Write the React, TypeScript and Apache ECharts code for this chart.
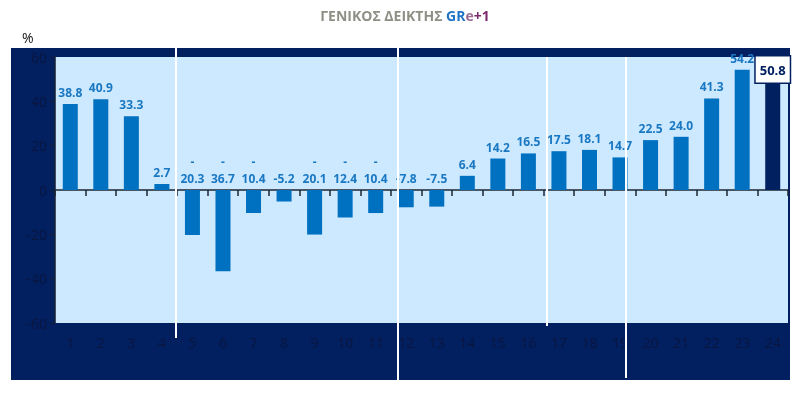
import React, { useEffect, useRef } from "react";
import * as echarts from "echarts";

const categories = ["1","2","3","4","5","6","7","8","9","10","11","12","13","14","15","16","17","18","19","20","21","22","23","24"];
const values = [38.8, 40.9, 33.3, 2.7, -20.3, -36.7, -10.4, -5.2, -20.1, -12.4, -10.4, -7.8, -7.5, 6.4, 14.2, 16.5, 17.5, 18.1, 14.7, 22.5, 24.0, 41.3, 54.2, 50.8];
const yTicks = { min: -60, max: 60, interval: 20 };

const NAVY = "#022060";
const BAR = "#0070c0";
const LABEL = "#1a78c2";
const AXISTXT = "#0a1640";

export default function App() {
  const ref = useRef<HTMLDivElement>(null);
  useEffect(() => {
    if (!ref.current) return;
    const chart = echarts.init(ref.current, null, { renderer: "svg" });
    const last = values.length - 1;
    const data = values.map((v, i) => {
      if (i === last) {
        return {
          value: v,
          itemStyle: { color: "#002060" },
          label: {
            show: true,
            position: "top",
            distance: -5,
            formatter: v.toFixed(1),
            color: "#002060",
            fontSize: 13,
            fontWeight: "bold",
            backgroundColor: "#ffffff",
            borderColor: "#002060",
            borderWidth: 1.5,
            padding: [5, 4, 4, 4],
          },
        };
      }
      return {
        value: v,
        label: {
          formatter: v <= -10 ? "-\n" + Math.abs(v).toFixed(1) : v.toFixed(1),
        },
      };
    });
    chart.setOption({
      animation: false,
      title: {
        text: "{g|ΓΕΝΙΚΟΣ ΔΕΙΚΤΗΣ }{b|GR}{e|e}{p|+1}",
        left: "center",
        top: 3,
        textStyle: {
          rich: {
            g: { color: "#8f8f86", fontSize: 14, fontWeight: "bold", fontFamily: "Open Sans" },
            b: { color: "#1f74c4", fontSize: 14, fontWeight: "bold", fontFamily: "Open Sans" },
            e: { color: "#9a6a92", fontSize: 14, fontWeight: "bold", fontFamily: "Open Sans" },
            p: { color: "#7d2a6e", fontSize: 14, fontWeight: "bold", fontFamily: "Open Sans" },
          },
        },
      },
      grid: {
        left: 55,
        right: 22,
        top: 57,
        bottom: 70,
        show: true,
        backgroundColor: "#cce9ff",
        borderWidth: 0,
      },
      graphic: [
        { type: "rect", z: -100, shape: { x: 11, y: 48, width: 779, height: 332 }, style: { fill: NAVY } },
        { type: "text", left: 22, top: 30, style: { text: "%", fontSize: 14, fill: "#111", fontFamily: "Open Sans" } },
        { type: "line", z: 100, shape: { x1: 176, y1: 48, x2: 176, y2: 338 }, style: { stroke: "#ffffff", lineWidth: 2 } },
        { type: "line", z: 100, shape: { x1: 398, y1: 48, x2: 398, y2: 380 }, style: { stroke: "#ffffff", lineWidth: 2 } },
        { type: "line", z: 100, shape: { x1: 547, y1: 57, x2: 547, y2: 326 }, style: { stroke: "#ffffff", lineWidth: 2 } },
        { type: "line", z: 100, shape: { x1: 626, y1: 57, x2: 626, y2: 378 }, style: { stroke: "#ffffff", lineWidth: 2 } },
      ],
      xAxis: [
        {
          type: "category",
          data: categories,
          position: "bottom",
          axisLine: { show: false, onZero: false },
          axisTick: { show: false },
          axisLabel: { color: AXISTXT, fontSize: 14, margin: 12, fontFamily: "Open Sans" },
        },
        {
          type: "category",
          data: categories,
          position: "top",
          axisLine: { show: true, onZero: true, lineStyle: { color: "#1c2433", width: 1.5 } },
          axisTick: { show: true, inside: true, length: 6, lineStyle: { color: "#1c2433", width: 1.5 } },
          axisLabel: { show: false },
        },
      ],
      yAxis: {
        type: "value",
        min: yTicks.min,
        max: yTicks.max,
        interval: yTicks.interval,
        axisLine: { show: true, lineStyle: { color: "#141c33", width: 1.5 } },
        axisTick: { show: true, length: 5, lineStyle: { color: "#141c33" } },
        axisLabel: { color: AXISTXT, fontSize: 14, margin: 8, fontFamily: "Open Sans" },
        splitLine: { show: false },
      },
      series: [
        {
          type: "bar",
          xAxisIndex: 0,
          data,
          barWidth: 15,
          itemStyle: { color: BAR },
          label: {
            show: true,
            position: "top",
            distance: 3,
            color: LABEL,
            fontSize: 12,
            fontWeight: "bold",
            fontFamily: "Open Sans",
            lineHeight: 17,
          },
        },
      ],
    });
    return () => chart.dispose();
  }, []);
  return <div ref={ref} style={{ position: "fixed", left: 0, top: 0, width: 810, height: 393 }} />;
}
